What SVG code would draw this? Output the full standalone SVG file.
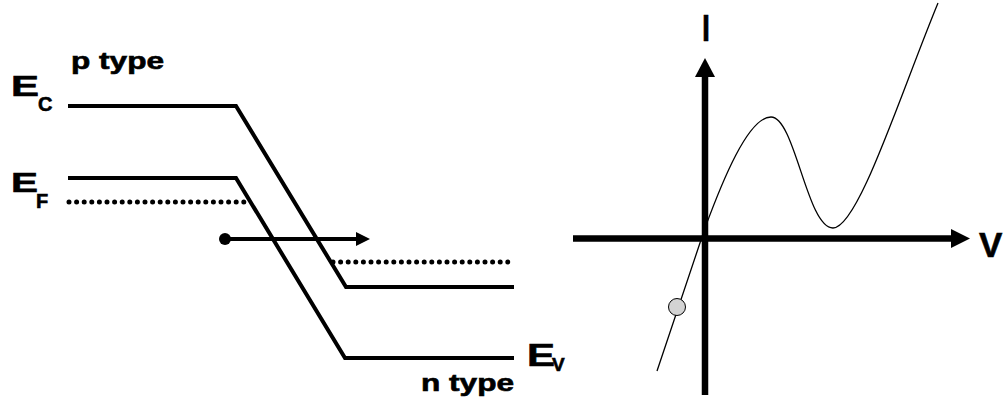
<svg xmlns="http://www.w3.org/2000/svg" width="1007" height="402" viewBox="0 0 1007 402">
<style>
.t{font-family:"Liberation Sans",Arial,sans-serif;font-weight:bold;fill:#000;stroke:#000;stroke-width:0.6}
.band{fill:none;stroke:#000;stroke-width:4;stroke-linejoin:miter}
.dot{fill:none;stroke:#000;stroke-width:5;stroke-linecap:round;stroke-dasharray:0 7.6}
.axis{stroke:#000;stroke-width:6.5;fill:none}
</style>
<rect width="1007" height="402" fill="#fff"/>
<g id="labels">
<text class="t" x="71" y="69" font-size="23" textLength="93" lengthAdjust="spacingAndGlyphs">p type</text>
<text class="t" x="11" y="96" font-size="29" textLength="28" lengthAdjust="spacingAndGlyphs">E</text>
<text class="t" x="38" y="111" font-size="20">C</text>
<text class="t" x="11" y="192" font-size="28" textLength="27" lengthAdjust="spacingAndGlyphs">E</text>
<text class="t" x="36" y="208" font-size="20">F</text>
<text class="t" x="527" y="366" font-size="31" textLength="28" lengthAdjust="spacingAndGlyphs">E</text>
<text class="t" x="552" y="371" font-size="19">V</text>
<text class="t" x="421" y="391" font-size="23" textLength="93" lengthAdjust="spacingAndGlyphs">n type</text>
<text class="t" x="706" y="41" font-size="37" text-anchor="middle" textLength="8" lengthAdjust="spacingAndGlyphs">I</text>
<text class="t" x="979" y="257" font-size="35">V</text>
</g>
<g id="band-diagram">
<polyline class="band" points="68,106 236,106 346,287 514,287"/>
<polyline class="band" points="68,178 236,178 345,358 514,358"/>
<line class="dot" x1="69" y1="202" x2="248" y2="202"/>
<line class="dot" x1="333" y1="262" x2="512" y2="262"/>
</g>
<g id="carrier">
<circle cx="225" cy="239" r="6" fill="#000"/>
<line x1="225" y1="239" x2="356" y2="239" stroke="#000" stroke-width="4"/>
<polygon points="356,232 370,239 356,246" fill="#000"/>
</g>
<g id="axes">
<line class="axis" x1="705" y1="395" x2="705" y2="75"/>
<polygon points="695,77 705,58 715,77" fill="#000"/>
<line class="axis" x1="573" y1="238.5" x2="953" y2="238.5"/>
<polygon points="951,229 970,238.5 951,248" fill="#000"/>
</g>
<g id="iv-curve">
<path d="M657,371 L705,228 C722,182 748,117 771,117 C795,117 807,228 833,228 C858,228 900,95 938,3" fill="none" stroke="#000" stroke-width="1.3"/>
<circle cx="677" cy="307" r="8.5" fill="#d3d3d3" stroke="#000" stroke-width="1"/>
</g>
</svg>
